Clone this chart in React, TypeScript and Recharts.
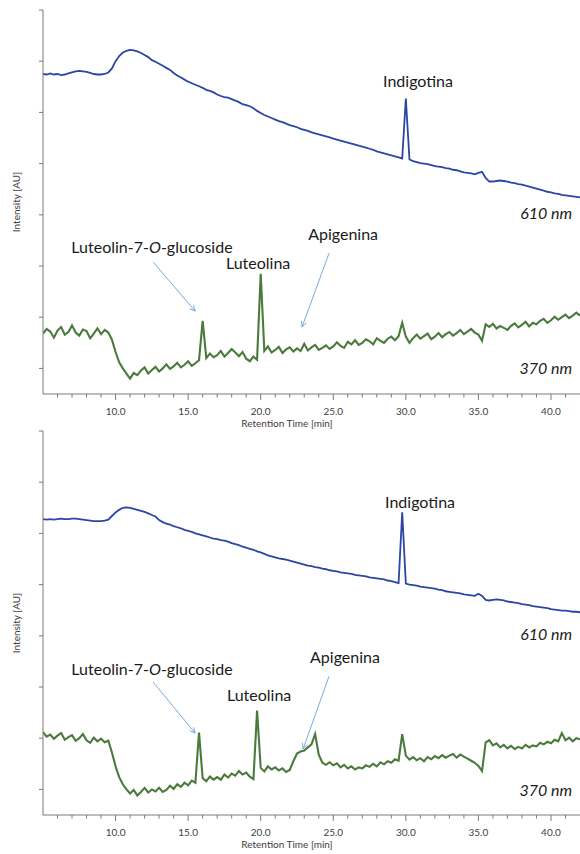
import React from 'react';
import { LineChart, Line, XAxis, YAxis, ReferenceDot, ReferenceLine, Label } from 'recharts';

const FONT = 'Lato, "Open Sans", sans-serif';
const BLUE = '#2b46a3';
const GREEN = '#4b7a3c';
const AXIS = '#7a7a7a';
const ARROW = '#6a9fd8';

// retention time grid [min], 0.25 min steps from 5.0 to 42.0
const times: number[] = Array.from({ length: 149 }, (_, i) => 5 + i * 0.25);

// upper chromatogram, 610 nm trace
const blueTop = [
  6.25, 6.24, 6.26, 6.24, 6.25, 6.23, 6.24, 6.26,
  6.28, 6.30, 6.31, 6.30, 6.29, 6.27, 6.25, 6.24,
  6.24, 6.25, 6.28, 6.36, 6.50, 6.60, 6.67, 6.70,
  6.72, 6.71, 6.69, 6.66, 6.62, 6.58, 6.52, 6.49,
  6.45, 6.41, 6.37, 6.33, 6.27, 6.22, 6.18, 6.14,
  6.10, 6.07, 6.04, 6.01, 5.98, 5.94, 5.92, 5.89,
  5.85, 5.82, 5.80, 5.79, 5.76, 5.73, 5.70, 5.66,
  5.64, 5.62, 5.58, 5.53, 5.49, 5.45, 5.42, 5.39,
  5.36, 5.33, 5.31, 5.28, 5.25, 5.23, 5.21, 5.18,
  5.16, 5.14, 5.11, 5.09, 5.07, 5.05, 5.03, 5.01,
  4.99, 4.97, 4.95, 4.93, 4.91, 4.89, 4.87, 4.85,
  4.83, 4.81, 4.79, 4.77, 4.74, 4.72, 4.70, 4.68,
  4.66, 4.64, 4.62, 4.60, 5.77, 4.58, 4.55, 4.53,
  4.51, 4.50, 4.49, 4.47, 4.45, 4.44, 4.43, 4.41,
  4.40, 4.38, 4.37, 4.35, 4.33, 4.32, 4.31, 4.29,
  4.32, 4.34, 4.22, 4.15, 4.15, 4.16, 4.17, 4.16,
  4.15, 4.13, 4.12, 4.10, 4.09, 4.07, 4.05, 4.03,
  4.01, 3.99, 3.97, 3.95, 3.94, 3.92, 3.91, 3.89,
  3.88, 3.87, 3.86, 3.85, 3.84,
];

// upper chromatogram, 370 nm trace
const greenTop = [
  1.18, 1.27, 1.22, 1.10, 1.24, 1.31, 1.16, 1.21,
  1.34, 1.20, 1.14, 1.26, 1.23, 1.09, 1.18, 1.28,
  1.17, 1.25, 1.20, 1.06, 0.82, 0.62, 0.50, 0.40,
  0.30, 0.41, 0.37, 0.46, 0.52, 0.40, 0.47, 0.53,
  0.44, 0.50, 0.58, 0.49, 0.54, 0.61, 0.52, 0.57,
  0.64, 0.55, 0.60, 0.66, 1.43, 0.70, 0.79, 0.72,
  0.76, 0.84, 0.73, 0.80, 0.88, 0.81, 0.74, 0.82,
  0.69, 0.64, 0.73, 0.67, 2.35, 0.84, 0.93, 0.81,
  0.86, 0.92, 0.80, 0.87, 0.91, 0.83, 0.89, 0.84,
  0.98, 0.85, 0.91, 0.96, 0.86, 0.90, 0.95, 0.88,
  0.93, 1.01, 0.94, 0.90, 1.02, 0.97, 1.05, 0.96,
  1.00, 1.07, 1.03, 0.97, 1.09, 1.04, 1.00, 1.08,
  1.12, 1.05, 1.13, 1.39, 1.12, 1.00, 1.09, 1.16,
  1.08, 1.13, 1.18, 1.07, 1.12, 1.19, 1.11, 1.17,
  1.21, 1.14, 1.19, 1.25, 1.17, 1.22, 1.27, 1.20,
  1.16, 1.04, 1.36, 1.31, 1.37, 1.28, 1.33, 1.29,
  1.25, 1.33, 1.38, 1.30, 1.35, 1.41, 1.32, 1.39,
  1.36, 1.43, 1.47, 1.39, 1.44, 1.51, 1.45, 1.50,
  1.55, 1.48, 1.53, 1.59, 1.53,
];

// lower chromatogram, 610 nm trace
const blueBottom = [
  5.78, 5.77, 5.78, 5.77, 5.78, 5.79, 5.78, 5.78,
  5.79, 5.79, 5.78, 5.77, 5.76, 5.75, 5.74, 5.74,
  5.74, 5.75, 5.77, 5.84, 5.91, 5.96, 6.00, 6.01,
  6.00, 5.98, 5.96, 5.94, 5.92, 5.89, 5.86, 5.83,
  5.76, 5.72, 5.69, 5.67, 5.64, 5.62, 5.60, 5.57,
  5.55, 5.53, 5.50, 5.48, 5.46, 5.44, 5.42, 5.40,
  5.39, 5.37, 5.36, 5.34, 5.31, 5.29, 5.27, 5.24,
  5.22, 5.20, 5.18, 5.15, 5.13, 5.10, 5.07, 5.05,
  5.03, 5.01, 5.00, 4.99, 4.97, 4.95, 4.93, 4.91,
  4.89, 4.87, 4.86, 4.84, 4.83, 4.81, 4.80, 4.78,
  4.77, 4.76, 4.74, 4.73, 4.72, 4.71, 4.69, 4.68,
  4.67, 4.66, 4.64, 4.63, 4.62, 4.61, 4.60, 4.58,
  4.57, 4.55, 4.53, 5.91, 4.52, 4.50, 4.49, 4.48,
  4.46, 4.45, 4.44, 4.43, 4.42, 4.40, 4.39, 4.37,
  4.36, 4.35, 4.34, 4.33, 4.31, 4.30, 4.29, 4.28,
  4.32, 4.28, 4.20, 4.19, 4.20, 4.21, 4.20, 4.19,
  4.17, 4.16, 4.15, 4.14, 4.12, 4.11, 4.10, 4.08,
  4.07, 4.06, 4.05, 4.04, 4.02, 4.01, 4.00, 3.99,
  3.99, 3.98, 3.97, 3.97, 3.96,
];

// lower chromatogram, 370 nm trace
const greenBottom = [
  1.62, 1.53, 1.57, 1.49, 1.55, 1.60, 1.47, 1.52,
  1.56, 1.45, 1.50, 1.58, 1.46, 1.41, 1.51, 1.44,
  1.49, 1.42, 1.45, 1.22, 0.95, 0.74, 0.60, 0.50,
  0.42, 0.49, 0.38, 0.45, 0.53, 0.44, 0.50, 0.46,
  0.53, 0.45, 0.49, 0.57, 0.51, 0.60, 0.55, 0.63,
  0.58, 0.67, 0.63, 1.61, 0.72, 0.66, 0.75, 0.69,
  0.74, 0.69, 0.79, 0.73, 0.81, 0.77, 0.86, 0.79,
  0.83, 0.75, 0.70, 2.04, 0.92, 0.85, 0.95, 0.89,
  0.93, 0.87, 0.91, 0.84, 0.88, 1.05, 1.20, 1.24,
  1.26, 1.32, 1.38, 1.58, 1.18, 1.02, 0.98, 1.03,
  0.97, 1.01, 0.93, 0.98, 0.91, 0.95, 0.89, 0.93,
  0.91, 0.97, 0.94, 1.00, 0.95, 1.03, 0.99, 1.05,
  1.02, 1.09, 1.06, 1.58, 1.16, 1.08, 1.13, 1.07,
  1.11, 1.05, 1.13, 1.09, 1.15, 1.11, 1.17, 1.12,
  1.16, 1.19, 1.12, 1.18, 1.14, 1.10, 1.06, 1.02,
  0.96, 0.86, 1.42, 1.46, 1.36, 1.40, 1.32, 1.37,
  1.30, 1.35, 1.29, 1.33, 1.30, 1.37, 1.32, 1.36,
  1.34, 1.41, 1.38, 1.43, 1.40, 1.47, 1.44, 1.60,
  1.46, 1.51, 1.44, 1.50, 1.48,
];

const xTicks = [6, 7, 8, 9, 10, 11, 12, 13, 14, 15, 16, 17, 18, 19, 20, 21, 22, 23,
  24, 25, 26, 27, 28, 29, 30, 31, 32, 33, 34, 35, 36, 37, 38, 39, 40, 41];
const yTicks = [0.5, 1.5, 2.5, 3.5, 4.5, 5.5, 6.5, 7.5];

type Note = { text: string; t: number; v: number; anchor?: 'middle' | 'end'; italic?: boolean };
type Arrow = { from: [number, number]; to: [number, number] };

const notesTop: Note[] = [
  { text: 'Indigotina', t: 30.84, v: 6.13 },
  { text: 'Luteolin-7-O-glucoside', t: 12.51, v: 2.89 },
  { text: 'Luteolina', t: 19.82, v: 2.56 },
  { text: 'Apigenina', t: 25.68, v: 3.13 },
  { text: '610 nm', t: 41.46, v: 3.54, anchor: 'end', italic: true },
  { text: '370 nm', t: 41.46, v: 0.51, anchor: 'end', italic: true },
];
const arrowsTop: Arrow[] = [
  { from: [12.58, 2.58], to: [15.48, 1.62] },
  { from: [24.71, 2.75], to: [22.85, 1.31] },
];

const notesBottom: Note[] = [
  { text: 'Indigotina', t: 30.98, v: 6.13 },
  { text: 'Luteolin-7-O-glucoside', t: 12.51, v: 2.87 },
  { text: 'Luteolina', t: 19.89, v: 2.36 },
  { text: 'Apigenina', t: 25.81, v: 3.09 },
  { text: '610 nm', t: 41.46, v: 3.54, anchor: 'end', italic: true },
  { text: '370 nm', t: 41.46, v: 0.49, anchor: 'end', italic: true },
];
const arrowsBottom: Arrow[] = [
  { from: [12.58, 2.6], to: [15.48, 1.6] },
  { from: [24.71, 2.71], to: [22.92, 1.29] },
];

const XTick = (props: any) => {
  const { x, y, payload } = props;
  const major = payload.value % 5 === 0;
  return (
    <g>
      <line x1={x} x2={x} y1={y} y2={y + (major ? 6 : 3.5)} stroke={AXIS} strokeWidth={1} />
      {major && (
        <text x={x} y={y + 21} textAnchor="middle" fontSize={10} fontFamily={FONT} fill="#404040">
          {payload.value.toFixed(1)}
        </text>
      )}
    </g>
  );
};

// y ticks carry no labels, only short marks to the left of the axis
const YTick = (props: any) => {
  const { x, y } = props;
  return <line x1={x - 4} x2={x} y1={y} y2={y} stroke={AXIS} strokeWidth={1} />;
};

const noteText = (n: Note) => {
  if (n.text.includes('-O-')) {
    const [a, b] = n.text.split('-O-');
    return (
      <>
        <tspan>{a}-</tspan>
        <tspan fontStyle="italic">O</tspan>
        <tspan>-{b}</tspan>
      </>
    );
  }
  return n.text;
};

const ArrowShape = (p: any) => {
  const { x1, y1, x2, y2 } = p;
  const ang = Math.atan2(y2 - y1, x2 - x1);
  const len = 6;
  const h1x = x2 - len * Math.cos(ang - 0.45);
  const h1y = y2 - len * Math.sin(ang - 0.45);
  const h2x = x2 - len * Math.cos(ang + 0.45);
  const h2y = y2 - len * Math.sin(ang + 0.45);
  return (
    <g>
      <line x1={x1} y1={y1} x2={x2} y2={y2} stroke={ARROW} strokeWidth={0.9} />
      <polyline points={`${h1x},${h1y} ${x2},${y2} ${h2x},${h2y}`} fill="none" stroke={ARROW} strokeWidth={0.9} />
    </g>
  );
};

const Panel = ({ blue, green, notes, arrows }: { blue: number[]; green: number[]; notes: Note[]; arrows: Arrow[] }) => {
  const data = times.map((t, i) => ({ t, blue: blue[i], green: green[i] }));
  return (
    <LineChart width={580} height={430} data={data} margin={{ top: 10, right: 0, left: 0, bottom: 0 }}>
      <XAxis
        dataKey="t"
        type="number"
        domain={[5, 42]}
        ticks={xTicks}
        interval={0}
        allowDataOverflow
        height={36}
        stroke={AXIS}
        tickLine={false}
        tickSize={0}
        tickMargin={0}
        tick={<XTick />}
      >
        <Label
          content={() => (
            <text x={287} y={427} textAnchor="middle" fontSize={10} fontFamily={FONT} fill="#404040">
              Retention Time [min]
            </text>
          )}
        />
      </XAxis>
      <YAxis
        type="number"
        domain={[0, 7.5]}
        ticks={yTicks}
        interval={0}
        allowDataOverflow
        width={43}
        stroke={AXIS}
        tickLine={false}
        tickSize={0}
        tickMargin={0}
        tick={<YTick />}
      >
        <Label
          content={() => (
            <text
              x={16}
              y={202}
              transform="rotate(-90 16 202)"
              textAnchor="middle"
              dominantBaseline="central"
              fontSize={10}
              fontFamily={FONT}
              fill="#404040"
            >
              Intensity [AU]
            </text>
          )}
        />
      </YAxis>
      <Line dataKey="blue" type="linear" stroke={BLUE} strokeWidth={1.8} dot={false} isAnimationActive={false} />
      <Line dataKey="green" type="linear" stroke={GREEN} strokeWidth={2.1} dot={false} isAnimationActive={false} />
      {arrows.map((a, i) => (
        <ReferenceLine
          key={`a${i}`}
          segment={[{ x: a.from[0], y: a.from[1] }, { x: a.to[0], y: a.to[1] }]}
          shape={ArrowShape}
        />
      ))}
      {notes.map((n, i) => (
        <ReferenceDot
          key={`n${i}`}
          x={n.t}
          y={n.v}
          r={0}
          shape={(p: any) => (
            <text
              x={p.cx}
              y={p.cy}
              textAnchor={n.anchor ?? 'middle'}
              dominantBaseline="central"
              fontSize={16}
              fontFamily={FONT}
              fontStyle={n.italic ? 'italic' : 'normal'}
              fill="#1a1a1a"
            >
              {noteText(n)}
            </text>
          )}
        />
      ))}
    </LineChart>
  );
};

export default function App() {
  return (
    <div style={{ position: 'absolute', left: 0, top: 0, width: 580, height: 854, background: '#fff' }}>
      <div style={{ position: 'absolute', left: 0, top: 0 }}>
        <Panel blue={blueTop} green={greenTop} notes={notesTop} arrows={arrowsTop} />
      </div>
      <div style={{ position: 'absolute', left: 0, top: 421 }}>
        <Panel blue={blueBottom} green={greenBottom} notes={notesBottom} arrows={arrowsBottom} />
      </div>
    </div>
  );
}
